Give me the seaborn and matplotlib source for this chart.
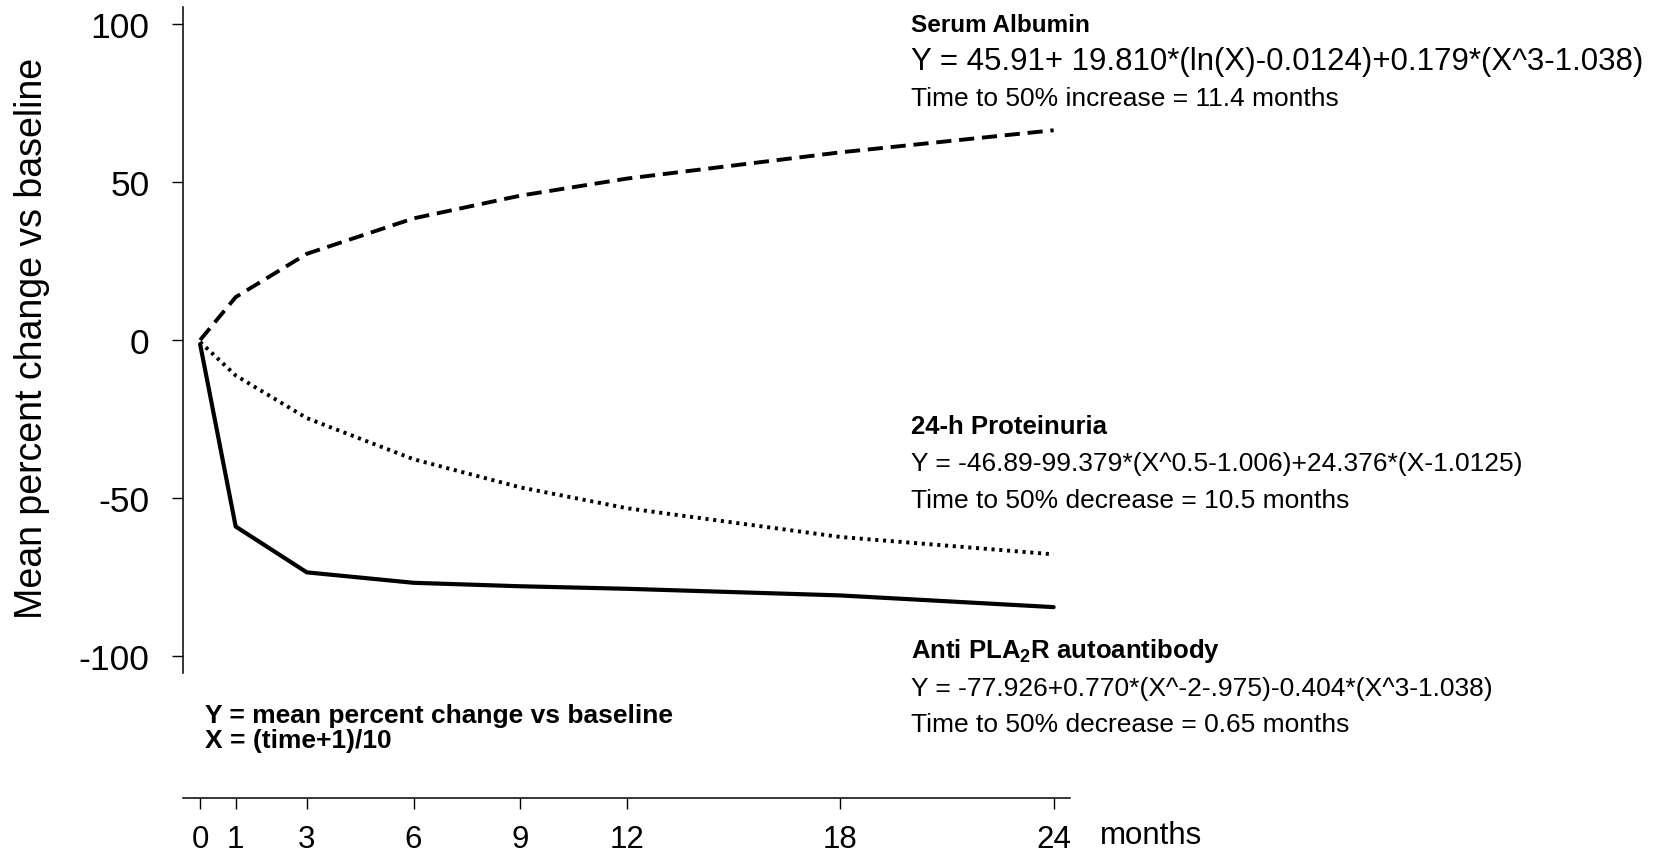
import matplotlib
matplotlib.use("Agg")
import matplotlib.pyplot as plt
import seaborn as sns
import pandas as pd
from matplotlib import font_manager as fm

months = [0, 1, 3, 6, 9, 12, 18, 24]
albumin = [0.0, 13.6, 27.3, 38.5, 45.7, 51.1, 59.4, 66.4]
proteinuria = [-0.6, -11.2, -24.7, -37.7, -46.6, -53.2, -62.3, -67.8]
anti_pla2r = [-1.3, -59.0, -73.5, -76.8, -77.9, -78.7, -80.8, -84.5]
y_ticks = [-100, -50, 0, 50, 100]

sns.set_theme(style="white")
names = {f.name for f in fm.fontManager.ttflist}
narrow = "Liberation Sans Narrow" if "Liberation Sans Narrow" in names else "Liberation Sans"
plt.rcParams["font.family"] = ["Liberation Sans", "DejaVu Sans"]
plt.rcParams["mathtext.fontset"] = "custom"
plt.rcParams["mathtext.rm"] = narrow
plt.rcParams["mathtext.bf"] = narrow + ":bold"
for k in ["text.color", "axes.labelcolor", "xtick.color", "ytick.color"]:
    plt.rcParams[k] = "black"

W, H = 1675, 853
fig = plt.figure(figsize=(W / 100, H / 100), dpi=100)
left, right, top, bottom = 182.7, 1070, 8.3, 799
ax = fig.add_axes([left / W, 1 - bottom / H, (right - left) / W, (bottom - top) / H])
ax.set_facecolor("white")

df = pd.DataFrame({"month": months, "alb": albumin, "prot": proteinuria, "pla": anti_pla2r})
sns.lineplot(data=df, x="month", y="alb", ax=ax, color="black", linewidth=2.8,
             linestyle=(0, (3.9, 2.0)))
sns.lineplot(data=df, x="month", y="prot", ax=ax, color="black", linewidth=2.8,
             linestyle=(0, (0.8, 1.2)))
sns.lineplot(data=df, x="month", y="pla", ax=ax, color="black", linewidth=3.0,
             linestyle="-")

ax.set_xlim(-0.49, 24.46)
ax.set_ylim(-144.9, 105.3)
for s in ["top", "right"]:
    ax.spines[s].set_visible(False)
for s in ["left", "bottom"]:
    ax.spines[s].set_color("black")
    ax.spines[s].set_linewidth(1.1)
ax.spines["left"].set_bounds(-105.3, 105.3)

ax.set_xticks(months)
ax.set_xticklabels([str(m) for m in months])
ax.set_yticks(y_ticks)
ax.set_yticklabels([str(v) for v in y_ticks])
ax.tick_params(axis="y", direction="out", length=8, width=1.0, color="black",
               pad=16, labelsize=25.5, left=True, labelcolor="black")
ax.tick_params(axis="x", direction="out", length=8, width=1.0, color="black",
               pad=11, labelsize=22.5, bottom=True, labelcolor="black")
ax.set_xlabel("")
ax.set_ylabel("")
ax.grid(False)

def ftext(x, y, s, **kw):
    kw.setdefault("ha", "left")
    fig.text(x / W, 1 - y / H, s, va="center", color="black", **kw)

ftext(32, 338, "Mean percent change vs baseline", fontsize=27, rotation=90, ha="center")
ftext(1100, 836, "months", fontsize=22.5)

fs = 17.5
ftext(911, 25.5, "Serum Albumin", fontsize=fs, fontweight="bold", family=narrow)
ftext(911, 62, "Y = 45.91+ 19.810*(ln(X)-0.0124)+0.179*(X^3-1.038)", fontsize=22.5, family=narrow)
ftext(911, 99, "Time to 50% increase = 11.4 months", fontsize=19, family=narrow)

ftext(911, 427, "24-h Proteinuria", fontsize=18.5, fontweight="bold", family=narrow)
ftext(911, 464, "Y = -46.89-99.379*(X^0.5-1.006)+24.376*(X-1.0125)", fontsize=19, family=narrow)
ftext(911, 501, "Time to 50% decrease = 10.5 months", fontsize=19, family=narrow)

ftext(911, 651, r"Anti PLA$_\mathbf{2}$R autoantibody", fontsize=18.5, fontweight="bold", family=narrow)
ftext(911, 689, "Y = -77.926+0.770*(X^-2-.975)-0.404*(X^3-1.038)", fontsize=19, family=narrow)
ftext(911, 725, "Time to 50% decrease = 0.65 months", fontsize=19, family=narrow)

ftext(205, 716, "Y = mean percent change vs baseline", fontsize=19, fontweight="bold")
ftext(205, 741, "X = (time+1)/10", fontsize=19, fontweight="bold")

fig.savefig("out.png", dpi=100, facecolor="white")
